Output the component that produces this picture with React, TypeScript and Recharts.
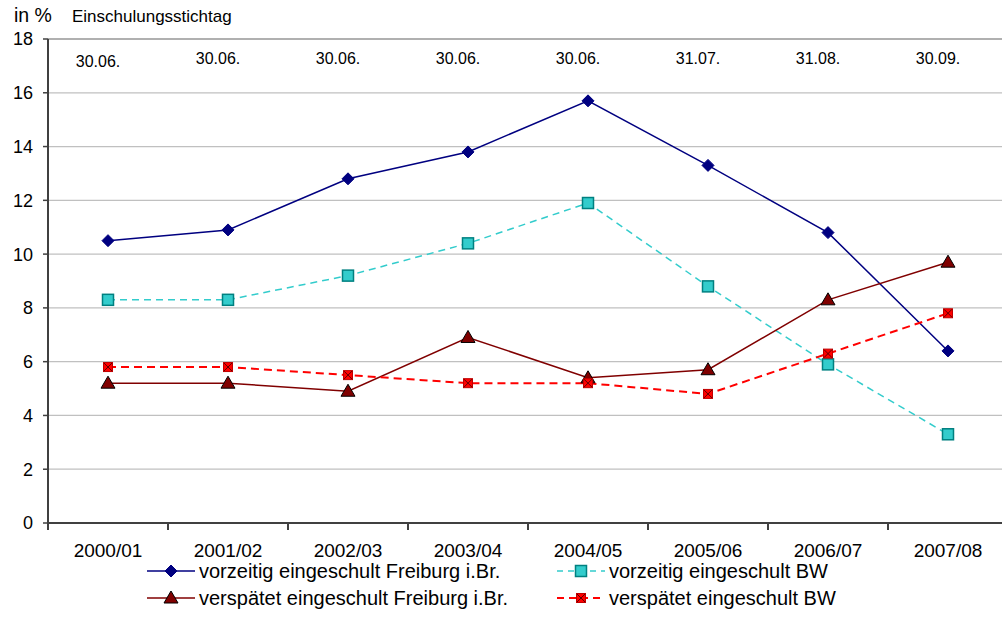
import { LineChart, Line, XAxis, YAxis, CartesianGrid } from 'recharts';

const categories = ['2000/01', '2001/02', '2002/03', '2003/04', '2004/05', '2005/06', '2006/07', '2007/08'];
const stichtag = ['30.06.', '30.06.', '30.06.', '30.06.', '30.06.', '31.07.', '31.08.', '30.09.'];
const vorzeitigFreiburg = [10.5, 10.9, 12.8, 13.8, 15.7, 13.3, 10.8, 6.4];
const vorzeitigBW = [8.3, 8.3, 9.2, 10.4, 11.9, 8.8, 5.9, 3.3];
const verspaetetFreiburg = [5.2, 5.2, 4.9, 6.9, 5.4, 5.7, 8.3, 9.7];
const verspaetetBW = [5.8, 5.8, 5.5, 5.2, 5.2, 4.8, 6.3, 7.8];
const yTicks = [0, 2, 4, 6, 8, 10, 12, 14, 16, 18];

const data = categories.map((c, i) => ({
  i,
  cat: c,
  vf: vorzeitigFreiburg[i],
  vb: vorzeitigBW[i],
  sf: verspaetetFreiburg[i],
  sb: verspaetetBW[i],
}));

const bottomTicks = [-0.5, 0, 0.5, 1, 1.5, 2, 2.5, 3, 3.5, 4, 4.5, 5, 5.5, 6, 6.5, 7, 7.5];
const font = '"Liberation Sans", Arial, sans-serif';

const BottomTick = (props: any) => {
  const { x, y, payload } = props;
  const v = payload.value;
  if (v % 1 !== 0) {
    return <line x1={x} x2={x} y1={y} y2={y + 7} stroke="#404040" strokeWidth={2} />;
  }
  return (
    <text x={x} y={y + 34} textAnchor="middle" fontSize={19} fontFamily={font} fill="#000">
      {categories[v]}
    </text>
  );
};

const TopTick = (props: any) => {
  const { x, y, payload } = props;
  const v = payload.value;
  return (
    <text x={x - 10} y={y + 25 + (v === 0 ? 3 : 0)} textAnchor="middle" fontSize={16} fontFamily={font} fill="#000">
      {stichtag[v]}
    </text>
  );
};

const Diamond = (p: any) => {
  const { cx, cy, index } = p;
  const s = 6;
  return (
    <polygon key={`d${index}`} points={`${cx},${cy - s} ${cx + s},${cy} ${cx},${cy + s} ${cx - s},${cy}`} fill="#000080" stroke="#000080" />
  );
};

const Square = (p: any) => {
  const { cx, cy, index } = p;
  return <rect key={`s${index}`} x={cx - 5.5} y={cy - 5.5} width={11} height={11} fill="#33CCCC" stroke="#008080" strokeWidth={1.5} />;
};

const Triangle = (p: any) => {
  const { cx, cy, index } = p;
  return (
    <polygon key={`t${index}`} points={`${cx},${cy - 7} ${cx + 7},${cy + 5} ${cx - 7},${cy + 5}`} fill="#800000" stroke="#000" strokeWidth={1} />
  );
};

const CrossSquare = (p: any) => {
  const { cx, cy, index } = p;
  return (
    <g key={`x${index}`}>
      <rect x={cx - 4.5} y={cy - 4.5} width={9} height={9} fill="#FF0000" stroke="#C00000" />
      <line x1={cx - 4} y1={cy - 4} x2={cx + 4} y2={cy + 4} stroke="#600000" strokeWidth={1} />
      <line x1={cx + 4} y1={cy - 4} x2={cx - 4} y2={cy + 4} stroke="#600000" strokeWidth={1} />
    </g>
  );
};

const legendItems = [
  { name: 'vorzeitig eingeschult Freiburg i.Br.', color: '#000080', dash: undefined, Dot: Diamond, w: 1.5 },
  { name: 'vorzeitig eingeschult BW', color: '#33CCCC', dash: '6 5', Dot: Square, w: 1.5 },
  { name: 'verspätet eingeschult Freiburg i.Br.', color: '#800000', dash: undefined, Dot: Triangle, w: 1.5 },
  { name: 'verspätet eingeschult BW', color: '#FF0000', dash: '7 5', Dot: CrossSquare, w: 2 },
];

const LegendIcon = ({ item }: any) => {
  const Dot = item.Dot;
  return (
    <svg width={52} height={20} style={{ display: 'block' }}>
      <line x1={2} x2={50} y1={10} y2={10} stroke={item.color} strokeWidth={item.w} strokeDasharray={item.dash} />
      <Dot cx={26} cy={10} index={0} />
    </svg>
  );
};

export default function App() {
  return (
    <div style={{ position: 'absolute', left: 0, top: 0, width: 1002, height: 639, overflow: 'hidden', background: '#fff', fontFamily: font }}>
      <div style={{ position: 'absolute', left: 14, top: 4, fontSize: 19.5 }}>in %</div>
      <div style={{ position: 'absolute', left: 72, top: 7, fontSize: 17 }}>Einschulungsstichtag</div>
      <LineChart width={1010} height={639} data={data} margin={{ top: 19, right: 2, left: 0, bottom: 0 }}>
        <CartesianGrid vertical={false} stroke="#c0c0c0" strokeWidth={1.2} />
        <XAxis
          dataKey="i"
          type="number"
          domain={[-0.5, 7.5]}
          ticks={bottomTicks}
          interval={0}
          height={116}
          axisLine={{ stroke: '#404040', strokeWidth: 2 }}
          tickLine={false}
          tickSize={0}
          tickMargin={0}
          tick={<BottomTick />}
        />
        <XAxis
          xAxisId="top"
          orientation="top"
          dataKey="i"
          type="number"
          domain={[-0.5, 7.5]}
          ticks={[0, 1, 2, 3, 4, 5, 6, 7]}
          interval={0}
          height={20}
          axisLine={{ stroke: '#a0a0a0', strokeWidth: 1.5 }}
          tickLine={false}
          tickSize={0}
          tickMargin={0}
          tick={<TopTick />}
        />
        <YAxis
          domain={[0, 18]}
          ticks={yTicks}
          interval={0}
          width={48}
          axisLine={{ stroke: '#404040', strokeWidth: 2 }}
          tickLine={{ stroke: '#404040', strokeWidth: 1.5 }}
          tickSize={5}
          tickMargin={10}
          tick={{ fontSize: 18, fill: '#000', fontFamily: font }}
        />
        <Line dataKey="vf" stroke="#000080" strokeWidth={1.5} dot={<Diamond />} isAnimationActive={false} />
        <Line dataKey="vb" stroke="#33CCCC" strokeWidth={1.5} strokeDasharray="7 5" dot={<Square />} isAnimationActive={false} />
        <Line dataKey="sf" stroke="#800000" strokeWidth={1.5} dot={<Triangle />} isAnimationActive={false} />
        <Line dataKey="sb" stroke="#FF0000" strokeWidth={2} strokeDasharray="8 5" dot={<CrossSquare />} isAnimationActive={false} />
      </LineChart>
      {legendItems.map((item, k) => (
        <div
          key={item.name}
          style={{
            position: 'absolute',
            left: k % 2 === 0 ? 145 : 555,
            top: k < 2 ? 561 : 588,
            display: 'flex',
            alignItems: 'center',
            fontSize: 20,
            lineHeight: '20px',
            whiteSpace: 'nowrap',
            height: 20,
          }}
        >
          <LegendIcon item={item} />
          <span style={{ marginLeft: 2 }}>{item.name}</span>
        </div>
      ))}
    </div>
  );
}
